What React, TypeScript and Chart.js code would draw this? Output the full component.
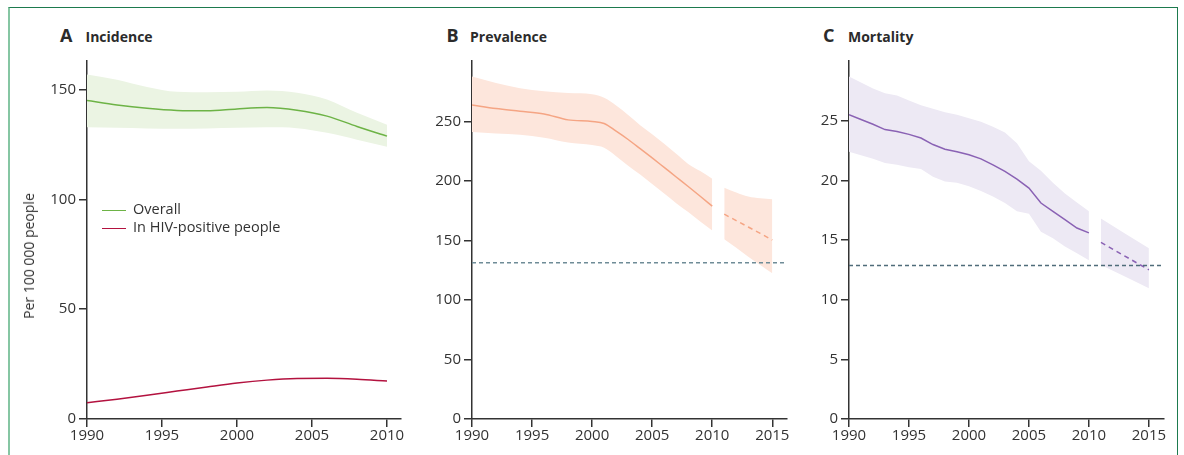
import React, { useEffect, useRef } from "react";
import { Chart, registerables } from "chart.js";

Chart.register(...registerables);

// ---------- Data ----------
// Panel A: Incidence
const A_YEARS = [1990, 1992, 1994, 1996, 1998, 2000, 2002, 2004, 2006, 2008, 2010];
const A_OVERALL = [145, 143, 141.5, 140.5, 140.3, 141.2, 141.8, 140.6, 137.9, 133.2, 128.8];
const A_OVERALL_UP = [156.9, 154.5, 151.2, 149.0, 148.8, 149.0, 149.6, 148.6, 145.5, 139.4, 134];
const A_OVERALL_LO = [132.8, 132.6, 132.3, 132.2, 132.3, 132.6, 132.8, 132.4, 130.3, 127.2, 124];
const A_HIV = [7.4, 9.0, 10.8, 12.7, 14.6, 16.4, 17.7, 18.4, 18.5, 18.1, 17.3];

// Panel B: Prevalence
const B_YEARS = [1990, 1992, 1994, 1996, 1998, 2000, 2001, 2002, 2003, 2004, 2005, 2006, 2007, 2008, 2009, 2010];
const B_LINE = [264, 261, 258.8, 256.5, 251.5, 250.2, 248.5, 242, 235, 227.3, 219.5, 211.5, 203.5, 195.5, 187.3, 179];
const B_UP = [287.9, 282.5, 278.1, 275.5, 274, 273, 270, 263.5, 255.5, 247, 239.5, 231.5, 223, 214.5, 208.5, 202];
const B_LO = [241.2, 240, 239, 236.5, 232.5, 230.3, 228, 221, 213, 205.5, 197.5, 189.5, 181.5, 174, 166, 158.4];
const B_PROJ_YEARS = [2011, 2012, 2013, 2014, 2015];
const B_PROJ_LINE = [172.2, 166.8, 161.4, 156, 150.5];
const B_PROJ_UP = [194.5, 190.5, 187, 185.5, 184.8];
const B_PROJ_LO = [151.1, 144, 136.5, 129.5, 122.5];
const B_TARGET = 131.4;

// Panel C: Mortality
const C_YEARS = [1990, 1991, 1992, 1993, 1994, 1995, 1996, 1997, 1998, 1999, 2000, 2001, 2002, 2003, 2004, 2005, 2006, 2007, 2008, 2009, 2010];
const C_LINE = [25.5, 25.1, 24.7, 24.25, 24.1, 23.85, 23.55, 23.0, 22.6, 22.4, 22.15, 21.8, 21.3, 20.75, 20.1, 19.35, 18.1, 17.4, 16.7, 16.0, 15.6];
const C_UP = [28.7, 28.2, 27.7, 27.3, 27.1, 26.7, 26.3, 26.0, 25.7, 25.5, 25.2, 24.9, 24.5, 24.0, 23.1, 21.6, 20.8, 19.8, 18.9, 18.15, 17.4];
const C_LO = [22.4, 22.1, 21.8, 21.45, 21.3, 21.1, 20.95, 20.3, 19.9, 19.8, 19.5, 19.1, 18.65, 18.1, 17.4, 17.2, 15.7, 15.15, 14.45, 13.9, 13.3];
const C_PROJ_YEARS = [2011, 2013, 2015];
const C_PROJ_LINE = [14.8, 13.65, 12.5];
const C_PROJ_UP = [16.8, 15.55, 14.3];
const C_PROJ_LO = [12.9, 11.95, 10.96];
const C_TARGET = 12.86;

// Ticks
const A_XTICKS = [1990, 1995, 2000, 2005, 2010];
const BC_XTICKS = [1990, 1995, 2000, 2005, 2010, 2015];
const A_YTICKS = [0, 50, 100, 150];
const B_YTICKS = [0, 50, 100, 150, 200, 250];
const C_YTICKS = [0, 5, 10, 15, 20, 25];

// Colours
const GREEN = "#6db346";
const GREEN_BAND = "#ebf4e3";
const CRIMSON = "#b3123f";
const SALMON = "#f5a584";
const SALMON_BAND = "#fde6dc";
const PURPLE = "#8a62b4";
const PURPLE_BAND = "#ede9f4";
const TARGET_B_COLOR = "#6f8c97";
const TARGET_C_COLOR = "#4f6c7a";
const AXIS = "#333333";
const FONT = "'Open Sans', 'Noto Sans', sans-serif";

const pts = (xs: number[], ys: number[]) => xs.map((x, i) => ({ x, y: ys[i] }));

function band(xs: number[], up: number[], lo: number[], color: string, tension: number) {
  return [
    {
      data: pts(xs, up),
      borderWidth: 0,
      borderColor: "rgba(0,0,0,0)",
      backgroundColor: color,
      fill: "+1",
      tension,
      cubicInterpolationMode: tension ? "monotone" : "default",
      pointRadius: 0,
    },
    {
      data: pts(xs, lo),
      borderWidth: 0,
      borderColor: "rgba(0,0,0,0)",
      fill: false,
      tension,
      cubicInterpolationMode: tension ? "monotone" : "default",
      pointRadius: 0,
    },
  ];
}

function line(xs: number[], ys: number[], color: string, smooth: boolean, dash?: number[]) {
  return {
    data: pts(xs, ys),
    borderColor: color,
    borderWidth: 1.5,
    borderDash: dash || [],
    fill: false,
    tension: smooth ? 0.4 : 0,
    cubicInterpolationMode: smooth ? "monotone" : "default",
    pointRadius: 0,
  };
}

type PanelCfg = {
  left: number;
  top: number;
  width: number;
  height: number;
  padTop: number;
  padRight: number;
  yWidth: number;
  xHeight: number;
  xMax: number;
  yMax: number;
  xTicks: number[];
  yTicks: number[];
  datasets: any[];
};

function Panel({ cfg }: { cfg: PanelCfg }) {
  const ref = useRef<HTMLCanvasElement | null>(null);
  useEffect(() => {
    if (!ref.current) return;
    const gridOpts = {
      drawOnChartArea: false,
      drawTicks: true,
      tickLength: 8,
      tickColor: AXIS,
      tickWidth: 1.5,
      lineWidth: 1.5,
      color: AXIS,
    };
    const chart = new Chart(ref.current, {
      type: "line",
      data: { datasets: cfg.datasets },
      options: {
        animation: false,
        responsive: false,
        maintainAspectRatio: false,
        devicePixelRatio: 1,
        layout: { padding: { left: 0, top: cfg.padTop, right: cfg.padRight, bottom: 0 } },
        plugins: { legend: { display: false }, tooltip: { enabled: false } },
        elements: { point: { radius: 0 } },
        scales: {
          x: {
            type: "linear",
            min: 1990,
            max: cfg.xMax,
            afterBuildTicks: (s: any) => {
              s.ticks = cfg.xTicks.map((v) => ({ value: v }));
            },
            afterFit: (s: any) => {
              s.height = cfg.xHeight;
            },
            grid: gridOpts,
            border: { display: true, color: AXIS, width: 1.5 },
            ticks: {
              color: AXIS,
              font: { family: FONT, size: 15 },
              padding: 0,
              maxRotation: 0,
              autoSkip: false,
              callback: (v: any) => String(v),
            },
          },
          y: {
            type: "linear",
            min: 0,
            max: cfg.yMax,
            afterBuildTicks: (s: any) => {
              s.ticks = cfg.yTicks.map((v) => ({ value: v }));
            },
            afterFit: (s: any) => {
              s.width = cfg.yWidth;
            },
            grid: gridOpts,
            border: { display: true, color: AXIS, width: 1.5 },
            ticks: {
              color: AXIS,
              font: { family: FONT, size: 15 },
              padding: 3,
              autoSkip: false,
              callback: (v: any) => String(v),
            },
          },
        },
      } as any,
    });
    return () => chart.destroy();
  }, [cfg]);
  return (
    <canvas
      ref={ref}
      width={cfg.width}
      height={cfg.height}
      style={{ position: "absolute", left: cfg.left, top: cfg.top, width: cfg.width, height: cfg.height }}
    />
  );
}

const PANEL_A: PanelCfg = {
  left: 37,
  top: 40,
  width: 383,
  height: 409,
  padTop: 21,
  padRight: 19.5,
  yWidth: 50,
  xHeight: 30,
  xMax: 2010.9,
  yMax: 163,
  xTicks: A_XTICKS,
  yTicks: A_YTICKS,
  datasets: [
    line(A_YEARS, A_OVERALL, GREEN, true),
    line(A_YEARS, A_HIV, CRIMSON, true),
    ...band(A_YEARS, A_OVERALL_UP, A_OVERALL_LO, GREEN_BAND, 0.4),
  ],
};

const B_XMAX = 2016.2;
const PANEL_B: PanelCfg = {
  left: 422,
  top: 40,
  width: 378,
  height: 409,
  padTop: 21,
  padRight: 13.3,
  yWidth: 50,
  xHeight: 30,
  xMax: B_XMAX,
  yMax: 301,
  xTicks: BC_XTICKS,
  yTicks: B_YTICKS,
  datasets: [
    line([1990, B_XMAX], [B_TARGET, B_TARGET], TARGET_B_COLOR, false, [4, 3]),
    line(B_YEARS, B_LINE, SALMON, true),
    line(B_PROJ_YEARS, B_PROJ_LINE, SALMON, false, [5, 4]),
    ...band(B_YEARS, B_UP, B_LO, SALMON_BAND, 0.4),
    ...band(B_PROJ_YEARS, B_PROJ_UP, B_PROJ_LO, SALMON_BAND, 0.4),
  ],
};

const C_XMAX = 2016.2;
const PANEL_C: PanelCfg = {
  left: 801,
  top: 40,
  width: 377,
  height: 409,
  padTop: 21,
  padRight: 14.7,
  yWidth: 48,
  xHeight: 30,
  xMax: C_XMAX,
  yMax: 30,
  xTicks: BC_XTICKS,
  yTicks: C_YTICKS,
  datasets: [
    line([1990, C_XMAX], [C_TARGET, C_TARGET], TARGET_C_COLOR, false, [4, 3]),
    line(C_YEARS, C_LINE, PURPLE, false),
    line(C_PROJ_YEARS, C_PROJ_LINE, PURPLE, false, [5, 4]),
    ...band(C_YEARS, C_UP, C_LO, PURPLE_BAND, 0),
    ...band(C_PROJ_YEARS, C_PROJ_UP, C_PROJ_LO, PURPLE_BAND, 0),
  ],
};

const TITLES = [
  { letter: "A", name: "Incidence", letterX: 60, nameX: 85.5 },
  { letter: "B", name: "Prevalence", letterX: 446.5, nameX: 470 },
  { letter: "C", name: "Mortality", letterX: 823, nameX: 848 },
];

const LEGEND_A = [
  { label: "Overall", color: GREEN, baseline: 215 },
  { label: "In HIV-positive people", color: CRIMSON, baseline: 233 },
];

const Y_LABEL_A = "Per 100 000 people";

export default function App() {
  const textBase: React.CSSProperties = {
    position: "absolute",
    fontFamily: FONT,
    color: "#2b2b2b",
    whiteSpace: "nowrap",
    lineHeight: 1,
  };
  return (
    <div style={{ position: "absolute", left: 0, top: 0, width: 1184, height: 455, overflow: "hidden", background: "#fff" }}>
      <div
        style={{
          position: "absolute",
          left: 8,
          top: 7,
          width: 1170,
          height: 470,
          borderTop: "1.5px solid #1d7a4e",
          borderRight: "1.5px solid #1d7a4e",
          borderLeft: "2px solid #86c6a3",
          boxSizing: "border-box",
        }}
      />
      {TITLES.map((t) => (
        <React.Fragment key={t.letter}>
          <div style={{ ...textBase, left: t.letterX, top: 42 - 0.888 * 18, fontSize: 18, fontWeight: 700 }}>{t.letter}</div>
          <div style={{ ...textBase, left: t.nameX, top: 42 - 0.888 * 14, fontSize: 14, fontWeight: 700 }}>{t.name}</div>
        </React.Fragment>
      ))}
      <Panel cfg={PANEL_A} />
      <Panel cfg={PANEL_B} />
      <Panel cfg={PANEL_C} />
      {LEGEND_A.map((l) => (
        <React.Fragment key={l.label}>
          <div style={{ position: "absolute", left: 101.5, top: l.baseline - 5.5, width: 24, height: 1.5, background: l.color }} />
          <div style={{ ...textBase, left: 133, top: l.baseline - 0.888 * 14.5, fontSize: 14.5, color: "#333" }}>{l.label}</div>
        </React.Fragment>
      ))}
      <div
        style={{
          ...textBase,
          left: 29,
          top: 256,
          fontSize: 14,
          color: "#333",
          transform: "translate(-50%, -50%) rotate(-90deg)",
        }}
      >
        {Y_LABEL_A}
      </div>
    </div>
  );
}
